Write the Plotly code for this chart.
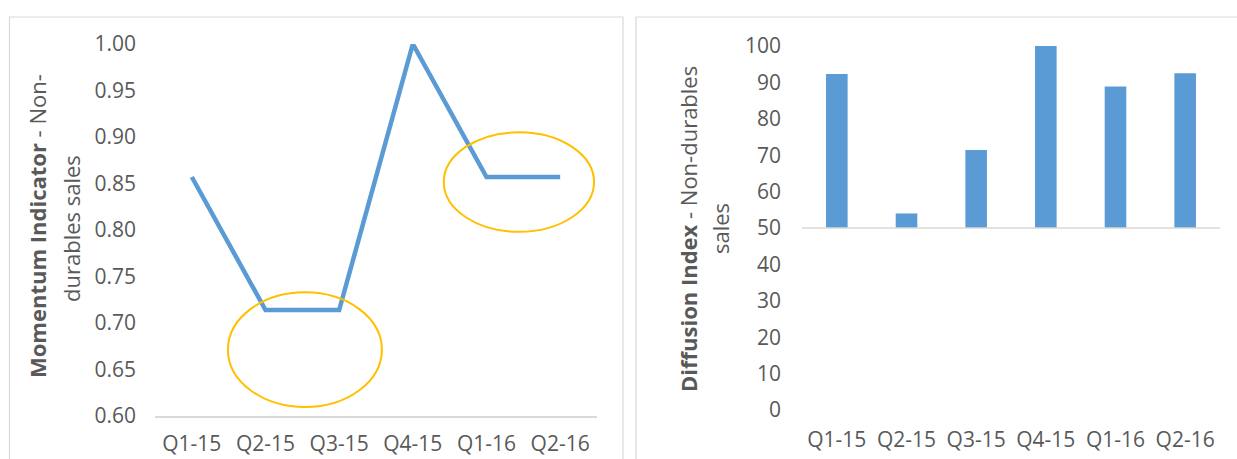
import plotly.graph_objects as go

# Quarterly readings
quarters = ["Q1-15", "Q2-15", "Q3-15", "Q4-15", "Q1-16", "Q2-16"]
momentum = [0.857, 0.714, 0.714, 1.0, 0.857, 0.857]
diffusion = [92.3, 54.0, 71.4, 100.0, 88.9, 92.5]
diffusion_base = 50

momentum_ticks = [0.60, 0.65, 0.70, 0.75, 0.80, 0.85, 0.90, 0.95, 1.00]
diffusion_ticks = list(range(0, 101, 10))

W, H = 1237, 459
BLUE = "#5B9BD5"
GOLD = "#FFC000"
GREY_TEXT = "#595959"
GREY_LINE = "#D9D9D9"
FONT = "Open Sans"


def px(x):
    return x / W


def py(y):
    return 1 - y / H


fig = go.Figure()

fig.add_trace(go.Scatter(
    x=quarters, y=momentum, mode="lines",
    line=dict(color=BLUE, width=4.5),
    xaxis="x", yaxis="y", showlegend=False, hoverinfo="x+y",
))

fig.add_trace(go.Bar(
    x=quarters, y=[v - diffusion_base for v in diffusion], base=diffusion_base,
    marker=dict(color=BLUE, line=dict(width=0)),
    xaxis="x2", yaxis="y2", showlegend=False,
))

tick_font = dict(family=FONT, size=21, color=GREY_TEXT)

fig.update_layout(
    width=W, height=H,
    margin=dict(l=0, r=0, t=0, b=0, autoexpand=False),
    paper_bgcolor="white", plot_bgcolor="white",
    bargap=0.69,
    xaxis=dict(
        domain=[px(155), px(597)], anchor="y", type="category",
        range=[-0.5, len(quarters) - 0.5], automargin=False,
        showgrid=False, zeroline=False,
        showline=True, linecolor=GREY_LINE, linewidth=1.5,
        tickfont=tick_font, ticks="", ticklabelstandoff=8,
    ),
    yaxis=dict(
        domain=[py(416), py(44)], anchor="x", range=[0.6, 1.0],
        automargin=False,
        tickvals=momentum_ticks, tickformat=".2f",
        showgrid=False, zeroline=False, showline=False,
        tickfont=tick_font, ticks="", ticklabelstandoff=18,
    ),
    xaxis2=dict(
        domain=[px(802), px(1220)], anchor="y2", type="category",
        range=[-0.5, len(quarters) - 0.5], automargin=False,
        showgrid=False, zeroline=False, showline=False,
        tickfont=tick_font, ticks="", ticklabelstandoff=15,
    ),
    yaxis2=dict(
        domain=[py(410), py(46)], anchor="x2", range=[0, 100],
        automargin=False,
        tickvals=diffusion_ticks,
        showgrid=False, zeroline=False, showline=False,
        tickfont=tick_font, ticks="", ticklabelstandoff=20,
    ),
)

shapes = [
    # chart frames
    dict(type="rect", xref="paper", yref="paper",
         x0=px(9.5), x1=px(623), y0=py(17), y1=py(470),
         line=dict(color=GREY_LINE, width=1.2), layer="below"),
    dict(type="rect", xref="paper", yref="paper",
         x0=px(636), x1=px(1250), y0=py(17), y1=py(470),
         line=dict(color=GREY_LINE, width=1.2), layer="below"),
    # horizontal axis of the bar chart, crossing at the base value
    dict(type="line", xref="x2 domain", yref="y2",
         x0=0, x1=1, y0=diffusion_base, y1=diffusion_base,
         line=dict(color=GREY_LINE, width=1.5)),
    # highlighted flat stretches
    dict(type="circle", xref="x", yref="y",
         x0=0.49, x1=2.58, y0=0.6097, y1=0.733,
         line=dict(color=GOLD, width=2)),
    dict(type="circle", xref="x", yref="y",
         x0=3.42, x1=5.46, y0=0.798, y1=0.905,
         line=dict(color=GOLD, width=2)),
]
fig.update_layout(shapes=shapes)

title_font = dict(family=FONT, size=22, color=GREY_TEXT)
title_lines = [
    ("<b>Momentum Indicator</b> - Non-", 37, 226),
    ("durables sales", 71, 229),
    ("<b>Diffusion Index</b> - Non-durables", 688, 229),
    ("sales", 720, 229),
]
for text, cx, cy in title_lines:
    fig.add_annotation(
        text=text, xref="paper", yref="paper", x=px(cx), y=py(cy),
        showarrow=False, textangle=-90, font=title_font,
        xanchor="center", yanchor="middle", align="center",
    )

fig.write_html("out.html")
